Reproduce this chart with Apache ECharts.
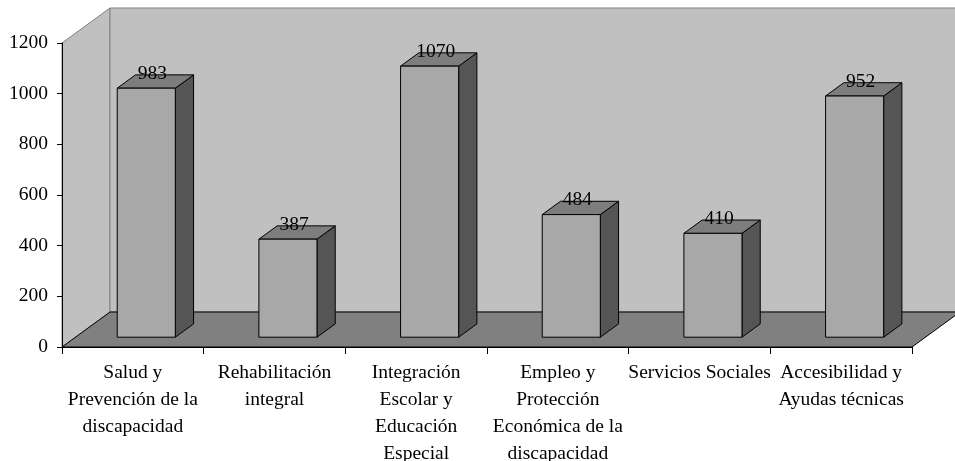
<!DOCTYPE html>
<html>
<head>
<meta charset="utf-8">
<script src="https://cdn.jsdelivr.net/npm/echarts@6/dist/echarts.min.js"></script>
<style>html,body{margin:0;padding:0;background:#fff}</style>
</head>
<body>
<div id="chart" style="width:955px;height:461px"></div>
<script>
// datos del grafico
var categories = [
  'Salud y\nPrevención de la\ndiscapacidad',
  'Rehabilitación\nintegral',
  'Integración\nEscolar y\nEducación\nEspecial',
  'Empleo y\nProtección\nEconómica de la\ndiscapacidad',
  'Servicios Sociales',
  'Accesibilidad y\nAyudas técnicas'
];
var values = [983, 387, 1070, 484, 410, 952];
var yMin = 0, yMax = 1200, yStep = 200;

// estilo 3d
var depth = [48, -35];
var barNear = 0.28, barFar = 0.66, barWidth = 0.41;
var wallColor = '#c0c0c0', floorColor = '#808080';
var frontColor = '#a8a8a8', topColor = '#7d7d7d', sideColor = '#555555';
var font = '19.5px "Liberation Serif", "Times New Roman", serif';

function renderWalls(params, api) {
  var c = params.coordSys;
  var x0 = c.x, x1 = c.x + c.width, y0 = c.y, y1 = c.y + c.height;
  var dx = depth[0], dy = depth[1];
  return {
    type: 'group',
    children: [
      {type: 'polygon', shape: {points: [[x0, y0], [x0 + dx, y0 + dy], [x0 + dx, y1 + dy], [x0, y1]]},
        style: {fill: wallColor, stroke: '#808080', lineWidth: 1}},
      {type: 'rect', shape: {x: x0 + dx, y: y0 + dy, width: c.width, height: c.height},
        style: {fill: wallColor, stroke: '#808080', lineWidth: 1}},
      {type: 'polygon', shape: {points: [[x0, y1], [x0 + dx, y1 + dy], [x1 + dx, y1 + dy], [x1, y1]]},
        style: {fill: floorColor, stroke: '#000', lineWidth: 1}}
    ]
  };
}

function renderBar(params, api) {
  var i = api.value(0), v = api.value(1);
  var top = api.coord([i, v]);
  var base = api.coord([i, 0]);
  var w = api.size([1, 0])[0] * barWidth;
  var n = [depth[0] * barNear, depth[1] * barNear];
  var f = [depth[0] * barFar, depth[1] * barFar];
  var xl = top[0] - w / 2 + n[0], xr = top[0] + w / 2 + n[0];
  var yt = top[1] + n[1], yb = base[1] + n[1];
  var dx = f[0] - n[0], dy = f[1] - n[1];
  return {
    type: 'group',
    children: [
      {type: 'polygon', shape: {points: [[xr, yt], [xr + dx, yt + dy], [xr + dx, yb + dy], [xr, yb]]},
        style: {fill: sideColor, stroke: '#000', lineWidth: 1}},
      {type: 'polygon', shape: {points: [[xl, yt], [xr, yt], [xr + dx, yt + dy], [xl + dx, yt + dy]]},
        style: {fill: topColor, stroke: '#000', lineWidth: 1}},
      {type: 'rect', shape: {x: xl, y: yt, width: xr - xl, height: yb - yt},
        style: {fill: frontColor, stroke: '#000', lineWidth: 1}},
      {type: 'text', x: top[0] + (n[0] + f[0]) / 2 - 3, y: yt + dy - 1,
        style: {text: String(v), font: font, fill: '#000', align: 'center', verticalAlign: 'middle'}}
    ]
  };
}

var chart = echarts.init(document.getElementById('chart'));
chart.setOption({
  animation: false,
  backgroundColor: '#fff',
  grid: {left: 62, right: 43, top: 43, bottom: 114, containLabel: false, outerBoundsMode: 'none'},
  xAxis: {
    type: 'category',
    data: categories,
    z: 10,
    axisLine: {lineStyle: {color: '#000', width: 1}},
    axisTick: {show: true, length: 7, interval: 0, lineStyle: {color: '#000'}},
    axisLabel: {interval: 0, color: '#000', fontSize: 19.5, fontFamily: '"Liberation Serif", serif', lineHeight: 27, margin: 12}
  },
  yAxis: {
    type: 'value',
    min: yMin, max: yMax, interval: yStep,
    z: 10,
    axisLine: {show: true, lineStyle: {color: '#000', width: 1}},
    axisTick: {show: true, length: 5, lineStyle: {color: '#000'}},
    splitLine: {show: false},
    axisLabel: {color: '#000', fontSize: 19.5, fontFamily: '"Liberation Serif", serif', margin: 14,
      formatter: function (v) { return String(v); }}
  },
  series: [{
    type: 'custom',
    z: 1,
    silent: true,
    renderItem: renderWalls,
    data: [[0, 0]]
  }, {
    type: 'custom',
    z: 2,
    renderItem: renderBar,
    encode: {x: 0, y: 1},
    data: values.map(function (v, i) { return [i, v]; })
  }]
});
</script>
</body>
</html>
